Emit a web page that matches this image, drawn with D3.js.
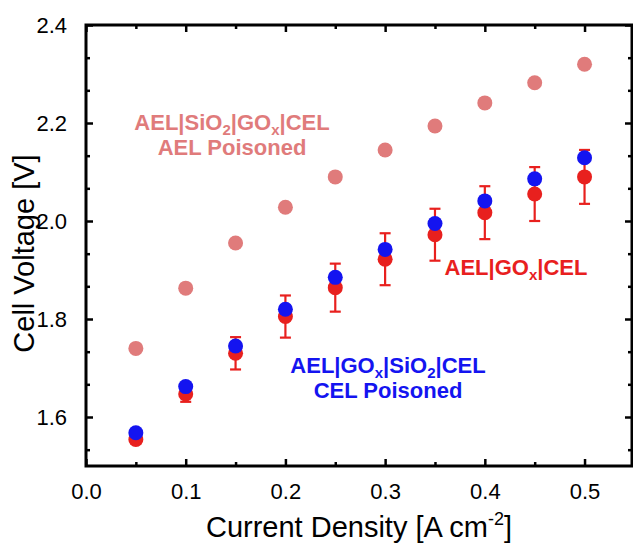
<!DOCTYPE html>
<html>
<head>
<meta charset="utf-8">
<script src="https://cdn.jsdelivr.net/npm/d3@7"></script>
<style>
  html, body { margin: 0; padding: 0; background: #fff; }
  svg { display: block; }
</style>
</head>
<body>
<div id="chart"></div>
<script>
// ---- Data ----
const currentDensity = [0.05, 0.10, 0.15, 0.20, 0.25, 0.30, 0.35, 0.40, 0.45, 0.50];
const aelPoisoned   = [1.740, 1.863, 1.955, 2.028, 2.090, 2.145, 2.194, 2.241, 2.282, 2.320];
const goxCel        = [1.554, 1.647, 1.730, 1.805, 1.864, 1.922, 1.972, 2.017, 2.055, 2.090];
const goxCelErr     = [0.008, 0.016, 0.033, 0.043, 0.049, 0.053, 0.053, 0.054, 0.055, 0.055];
const celPoisoned   = [1.568, 1.662, 1.745, 1.820, 1.885, 1.942, 1.995, 2.041, 2.086, 2.129];

const xTicks = [0.0, 0.1, 0.2, 0.3, 0.4, 0.5];
const xMinorTicks = [0.05, 0.15, 0.25, 0.35, 0.45];
const yTicks = [1.6, 1.8, 2.0, 2.2, 2.4];
const yMinorTicks = [1.5333, 1.6667, 1.7333, 1.8667, 1.9333, 2.0667, 2.1333, 2.2667, 2.3333];

const xLabel = "Current Density [A cm";
const xLabelSup = "-2";
const yLabel = "Cell Voltage [V]";

// ---- Layout ----
const W = 633, H = 546;
const pLeft = 86, pRight = 632, pTop = 25, pBottom = 466;
const FONT = "'Liberation Sans', Arial, Helvetica, sans-serif";

const colPink = "#e07b7b";
const colRed = "#e8201e";
const colBlue = "#1414f0";

const svg = d3.select("#chart").append("svg")
  .attr("width", W).attr("height", H)
  .style("font-family", FONT);

const x = d3.scaleLinear().domain([0, 0.5476]).range([pLeft, pRight]);
const y = d3.scaleLinear().domain([1.5, 2.4]).range([pBottom, pTop]);

// ---- Axes (ticks inward on all sides) ----
function styleAxis(g, sw) {
  g.select(".domain").remove();
  g.selectAll(".tick line").attr("stroke", "#000").attr("stroke-width", sw);
  g.selectAll(".tick text").attr("fill", "#000").style("font-family", FONT);
}

const gxB = svg.append("g").attr("transform", `translate(0,${pBottom})`)
  .call(d3.axisBottom(x).tickValues(xTicks).tickSize(-7).tickPadding(17).tickFormat(d3.format(".1f")));
styleAxis(gxB, 2.5);
gxB.selectAll(".tick text").attr("font-size", 22);

svg.append("g").attr("transform", `translate(0,${pBottom})`)
  .call(d3.axisBottom(x).tickValues(xMinorTicks).tickSize(-4).tickFormat(""))
  .call(g => styleAxis(g, 2.5));

svg.append("g").attr("transform", `translate(0,${pTop})`)
  .call(d3.axisTop(x).tickValues(xTicks).tickSize(-7).tickFormat(""))
  .call(g => styleAxis(g, 2.5));
svg.append("g").attr("transform", `translate(0,${pTop})`)
  .call(d3.axisTop(x).tickValues(xMinorTicks).tickSize(-4).tickFormat(""))
  .call(g => styleAxis(g, 2.5));

const gyL = svg.append("g").attr("transform", `translate(${pLeft},0)`)
  .call(d3.axisLeft(y).tickValues(yTicks).tickSize(-7).tickPadding(19).tickFormat(d3.format(".1f")));
styleAxis(gyL, 2.5);
gyL.selectAll(".tick text").attr("font-size", 22);

svg.append("g").attr("transform", `translate(${pLeft},0)`)
  .call(d3.axisLeft(y).tickValues(yMinorTicks).tickSize(-4).tickFormat(""))
  .call(g => styleAxis(g, 2.5));

svg.append("g").attr("transform", `translate(${pRight},0)`)
  .call(d3.axisRight(y).tickValues(yTicks).tickSize(-7).tickFormat(""))
  .call(g => styleAxis(g, 2.5));
svg.append("g").attr("transform", `translate(${pRight},0)`)
  .call(d3.axisRight(y).tickValues(yMinorTicks).tickSize(-4).tickFormat(""))
  .call(g => styleAxis(g, 2.5));

// Frame
svg.append("rect")
  .attr("x", pLeft).attr("y", pTop)
  .attr("width", pRight - pLeft).attr("height", pBottom - pTop)
  .attr("fill", "none").attr("stroke", "#000").attr("stroke-width", 3);

// ---- Axis titles ----
const xt = svg.append("text")
  .attr("x", (pLeft + pRight) / 2).attr("y", 537)
  .attr("text-anchor", "middle").attr("font-size", 29).attr("fill", "#000");
xt.append("tspan").text(xLabel);
xt.append("tspan").attr("font-size", 18).attr("dy", -12).text(xLabelSup);
xt.append("tspan").attr("dy", 12).text("]");

svg.append("text")
  .attr("transform", `translate(34,${(pTop + pBottom) / 2 + 8}) rotate(-90)`)
  .attr("text-anchor", "middle").attr("font-size", 29).attr("fill", "#000")
  .text(yLabel);

// ---- Data marks ----
const R = 7.5;
const pts = (vals) => currentDensity.map((c, i) => ({ c, v: vals[i], i }));

svg.append("g").selectAll("circle").data(pts(aelPoisoned)).join("circle")
  .attr("cx", d => x(d.c)).attr("cy", d => y(d.v)).attr("r", R).attr("fill", colPink);

// error bars for red series
const eb = svg.append("g").attr("stroke", colRed).attr("stroke-width", 2.2);
const redPts = pts(goxCel);
eb.selectAll("line.v").data(redPts).join("line").attr("class", "v")
  .attr("x1", d => x(d.c)).attr("x2", d => x(d.c))
  .attr("y1", d => y(d.v - goxCelErr[d.i])).attr("y2", d => y(d.v + goxCelErr[d.i]));
eb.selectAll("line.t").data(redPts).join("line").attr("class", "t")
  .attr("x1", d => x(d.c) - 5.5).attr("x2", d => x(d.c) + 5.5)
  .attr("y1", d => y(d.v + goxCelErr[d.i])).attr("y2", d => y(d.v + goxCelErr[d.i]));
eb.selectAll("line.b").data(redPts).join("line").attr("class", "b")
  .attr("x1", d => x(d.c) - 5.5).attr("x2", d => x(d.c) + 5.5)
  .attr("y1", d => y(d.v - goxCelErr[d.i])).attr("y2", d => y(d.v - goxCelErr[d.i]));

svg.append("g").selectAll("circle").data(redPts).join("circle")
  .attr("cx", d => x(d.c)).attr("cy", d => y(d.v)).attr("r", R).attr("fill", colRed);

svg.append("g").selectAll("circle").data(pts(celPoisoned)).join("circle")
  .attr("cx", d => x(d.c)).attr("cy", d => y(d.v)).attr("r", R).attr("fill", colBlue);

// ---- Annotations ----
function label(lines, cx, y0, color) {
  lines.forEach((segs, li) => {
    const t = svg.append("text")
      .attr("x", cx).attr("y", y0 + li * 25)
      .attr("text-anchor", "middle").attr("font-size", 22)
      .attr("font-weight", "bold").attr("fill", color);
    let shifted = false;
    segs.forEach(s => {
      const ts = t.append("tspan").text(s.t);
      if (s.sub) { ts.attr("font-size", 15).attr("dy", 5); shifted = true; }
      else if (shifted) { ts.attr("dy", -5); shifted = false; }
    });
  });
}

label([[{t:"AEL|SiO"},{t:"2",sub:true},{t:"|GO"},{t:"x",sub:true},{t:"|CEL"}],
       [{t:"AEL Poisoned"}]], 232, 130, colPink);
label([[{t:"AEL|GO"},{t:"x",sub:true},{t:"|CEL"}]], 516, 275, colRed);
label([[{t:"AEL|GO"},{t:"x",sub:true},{t:"|SiO"},{t:"2",sub:true},{t:"|CEL"}],
       [{t:"CEL Poisoned"}]], 388, 373, colBlue);
</script>
</body>
</html>
